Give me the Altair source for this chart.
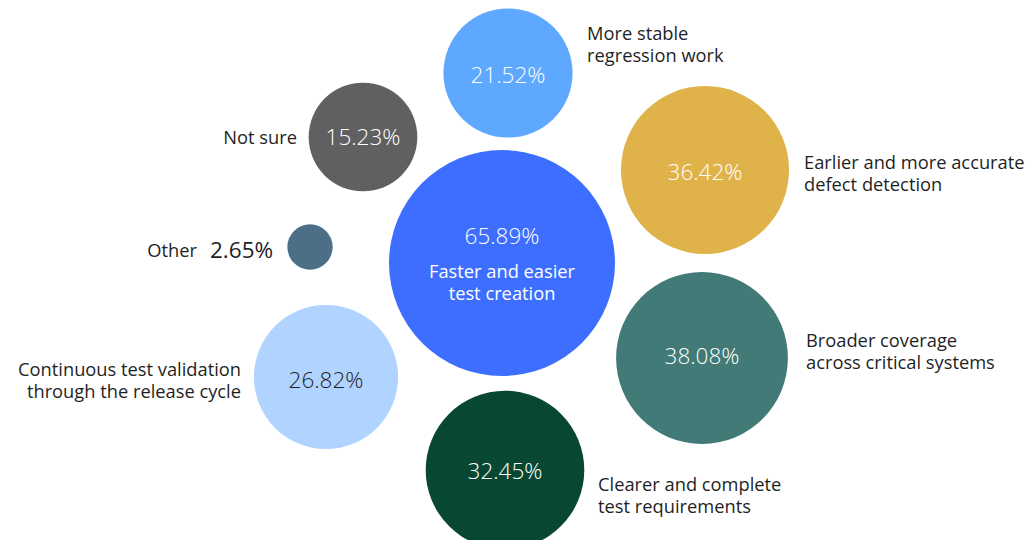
import altair as alt
import pandas as pd

categories = [
    "Faster and easier test creation",
    "More stable regression work",
    "Not sure",
    "Earlier and more accurate defect detection",
    "Other",
    "Broader coverage across critical systems",
    "Continuous test validation through the release cycle",
    "Clearer and complete test requirements",
]
values = [65.89, 21.52, 15.23, 36.42, 2.65, 38.08, 26.82, 32.45]
# bubble layout (page coordinates)
bx = [502, 508, 363, 705, 310, 702, 326, 505]
by = [263, 73, 137, 170, 247, 358, 377, 470]
colors = ["#3d6eff", "#5ea8ff", "#606060", "#e0b24a", "#4d6e87", "#417a76", "#b0d4ff", "#084832"]
pct_colors = ["#ffffff", "#ffffff", "#ffffff", "#ffffff", "#1f1f1f", "#ffffff", "#1f1f1f", "#ffffff"]
pct_x = [502, 508, 363, 705, 210, 702, 326, 505]
pct_y = [237, 76, 138, 173, 251, 357, 381, 472]

# outside labels
lab_text = [
    "More stable\nregression work",
    "Not sure",
    "Earlier and more accurate\ndefect detection",
    "Other",
    "Broader coverage\nacross critical systems",
    "Continuous test validation\nthrough the release cycle",
    "Clearer and complete\ntest requirements",
]
lab_x = [587, 297, 804, 197, 806, 241, 598]
lab_y = [34.5, 138.5, 163.5, 251.5, 341.5, 370.5, 485.5]
lab_align = ["left", "right", "left", "right", "left", "right", "left"]

W, H = 1018, 532
xs = alt.Scale(domain=[8, 8 + W], range=[0, W])
ys = alt.Scale(domain=[8 + H, 8], range=[H, 0])
FONT = "Open Sans"
LAB_SIZE = 18.3
PCT_SIZE = 22.5

bub = pd.DataFrame({"category": categories, "value": values, "x": bx, "y": by,
                    "color": colors, "pct": [f"{v:.2f}%" for v in values],
                    "px": pct_x, "py": pct_y, "pcolor": pct_colors})

circles = alt.Chart(bub).mark_circle(opacity=1).encode(
    x=alt.X("x:Q", scale=xs, axis=None),
    y=alt.Y("y:Q", scale=ys, axis=None),
    size=alt.Size("value:Q", scale=alt.Scale(domain=[0, 65.89], range=[0, 4 * 113 * 113]), legend=None),
    color=alt.Color("color:N", scale=None),
)

pct_in = alt.Chart(bub[bub["category"] != "Other"]).mark_text(
    font=FONT, fontSize=PCT_SIZE, fontWeight=300, align="center", baseline="middle"
).encode(
    x=alt.X("px:Q", scale=xs, axis=None),
    y=alt.Y("py:Q", scale=ys, axis=None),
    text="pct:N",
    color=alt.Color("pcolor:N", scale=None),
)

pct_other = alt.Chart(bub[bub["category"] == "Other"]).mark_text(
    font=FONT, fontSize=PCT_SIZE, fontWeight=400, align="left", baseline="middle"
).encode(
    x=alt.X("px:Q", scale=xs, axis=None),
    y=alt.Y("py:Q", scale=ys, axis=None),
    text="pct:N",
    color=alt.Color("pcolor:N", scale=None),
)

center_lab = pd.DataFrame({"t": ["Faster and easier\ntest creation"], "x": [502], "y": [272.5]})
center_text = alt.Chart(center_lab).mark_text(
    font=FONT, fontSize=LAB_SIZE, fontWeight=400, align="center", baseline="middle",
    lineBreak="\n", lineHeight=22.5, color="#ffffff"
).encode(
    x=alt.X("x:Q", scale=xs, axis=None),
    y=alt.Y("y:Q", scale=ys, axis=None),
    text="t:N",
)

labs = pd.DataFrame({"t": lab_text, "x": lab_x, "y": lab_y, "a": lab_align})

def lab_layer(al):
    return alt.Chart(labs[labs["a"] == al]).mark_text(
        font=FONT, fontSize=LAB_SIZE, fontWeight=400, align=al, baseline="middle",
        lineBreak="\n", lineHeight=22.5, color="#1f1f1f"
    ).encode(
        x=alt.X("x:Q", scale=xs, axis=None),
        y=alt.Y("y:Q", scale=ys, axis=None),
        text="t:N",
    )

chart = alt.layer(circles, pct_in, pct_other, center_text, lab_layer("left"), lab_layer("right")).properties(
    width=W, height=H, autosize=alt.AutoSizeParams(type="none"), padding=0
).configure(
    background="#ffffff",
    view=alt.ViewConfig(stroke="transparent", strokeWidth=0),
)

chart.save("out.html", embed_options={"renderer": "svg", "actions": False})
